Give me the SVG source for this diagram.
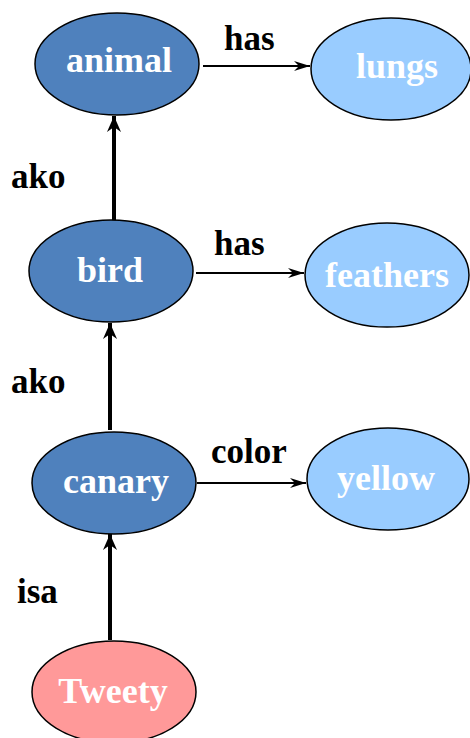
<svg xmlns="http://www.w3.org/2000/svg" width="470" height="738" viewBox="0 0 470 738">
<style>
.n{stroke:#000;stroke-width:1.5}
.dark{fill:#4F81BD}
.light{fill:#99CCFF}
.pink{fill:#FF9999}
.nt{font-family:"Liberation Serif",serif;font-weight:bold;font-size:36px;fill:#fff;text-anchor:middle}
.lb{font-family:"Liberation Serif",serif;font-weight:bold;font-size:35px;fill:#000}
.thin{stroke:#000;stroke-width:2;fill:none}
.thick{stroke:#000;stroke-width:4;fill:none}
</style>
<defs>
<marker id="ah" viewBox="0 0 16 10" refX="16" refY="5" markerWidth="16" markerHeight="10" markerUnits="userSpaceOnUse" orient="auto">
<path d="M0,0 L16,5 L0,10 L5,5 Z" fill="#000"/>
</marker>
<marker id="ahv" viewBox="0 0 16 14" refX="16" refY="7" markerWidth="16" markerHeight="14" markerUnits="userSpaceOnUse" orient="auto">
<path d="M0,0 L16,7 L0,14 L5,7 Z" fill="#000"/>
</marker>
</defs>
<g id="connectors">
<line class="thin" x1="203" y1="66" x2="310" y2="66" marker-end="url(#ah)"/>
<line class="thick" x1="114" y1="221" x2="114" y2="116" marker-end="url(#ahv)"/>
<line class="thin" x1="196" y1="273" x2="304" y2="273" marker-end="url(#ah)"/>
<line class="thick" x1="110" y1="430" x2="110" y2="323" marker-end="url(#ahv)"/>
<line class="thin" x1="197" y1="483" x2="306" y2="483" marker-end="url(#ah)"/>
<line class="thick" x1="110" y1="640" x2="110" y2="534" marker-end="url(#ahv)"/>
<text class="lb" x="224" y="50">has</text>
<text class="lb" x="11" y="188">ako</text>
<text class="lb" x="214" y="255">has</text>
<text class="lb" x="11" y="393">ako</text>
<text class="lb" x="211" y="463">color</text>
<text class="lb" x="17" y="603">isa</text>
</g>
<g id="animal"><ellipse class="n dark" cx="117" cy="64" rx="82" ry="51"/><text class="nt" x="119" y="72">animal</text></g>
<g id="lungs"><ellipse class="n light" cx="391" cy="69" rx="80" ry="51"/><text class="nt" x="397" y="78">lungs</text></g>
<g id="bird"><ellipse class="n dark" cx="111" cy="271" rx="82" ry="51"/><text class="nt" x="110" y="282">bird</text></g>
<g id="feathers"><ellipse class="n light" cx="387" cy="275" rx="82" ry="52"/><text class="nt" x="387" y="287">feathers</text></g>
<g id="canary"><ellipse class="n dark" cx="114" cy="483" rx="82" ry="51"/><text class="nt" x="116" y="493">canary</text></g>
<g id="yellow"><ellipse class="n light" cx="388" cy="479" rx="81" ry="51"/><text class="nt" x="386" y="490">yellow</text></g>
<g id="Tweety"><ellipse class="n pink" cx="114" cy="692" rx="82" ry="51"/><text class="nt" x="113" y="703">Tweety</text></g>
</svg>
